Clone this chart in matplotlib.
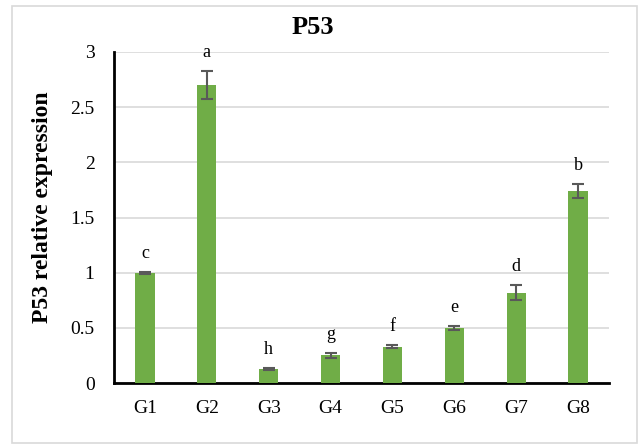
import matplotlib
matplotlib.use("Agg")
import matplotlib.pyplot as plt
from matplotlib.patches import Rectangle

groups = ["G1", "G2", "G3", "G4", "G5", "G6", "G7", "G8"]
expression = [1.00, 2.70, 0.13, 0.25, 0.33, 0.50, 0.82, 1.74]
errors = [0.01, 0.13, 0.01, 0.025, 0.012, 0.02, 0.07, 0.065]
letters = ["c", "a", "h", "g", "f", "e", "d", "b"]
yticks = [0, 0.5, 1, 1.5, 2, 2.5, 3]
ytick_labels = ["0", "0.5", "1", "1.5", "2", "2.5", "3"]

plt.rcParams["font.family"] = ["Liberation Serif", "DejaVu Serif"]

W, H = 639, 445
fig = plt.figure(figsize=(W / 100, H / 100), dpi=100)
fig.patches.append(Rectangle((12 / W, 2 / H), 625 / W, 437 / H,
                             transform=fig.transFigure, fill=False,
                             edgecolor="#D9D9D9", linewidth=1.2))

ax = fig.add_axes([114 / W, (H - 383) / H, 495 / W, (383 - 52) / H])
x = list(range(len(groups)))
ax.bar(x, expression, width=0.31, color="#70AD47", zorder=3)
ax.errorbar(x, expression, yerr=errors, fmt="none", ecolor="#595959",
            elinewidth=1.5, capsize=4.5, capthick=1.5, zorder=4)
for xi, v, e, t in zip(x, expression, errors, letters):
    ax.text(xi, v + e + 0.09, t, ha="center", va="bottom", fontsize=13,
            color="black")

ax.set_xlim(-0.5, len(groups) - 0.5)
ax.set_ylim(0, 3)
ax.set_yticks(yticks)
ax.set_yticklabels(ytick_labels, fontsize=14)
ax.set_xticks(x)
ax.set_xticklabels(groups, fontsize=14)
ax.tick_params(length=0, pad=12)
ax.tick_params(axis="y", pad=14)
ax.yaxis.grid(True, color="#D9D9D9", linewidth=1.2, zorder=0)
ax.set_axisbelow(True)
for s in ["top", "right"]:
    ax.spines[s].set_visible(False)
ax.spines["left"].set_linewidth(2)
ax.spines["bottom"].set_linewidth(2)
ax.spines["left"].set_color("black")
ax.spines["bottom"].set_color("black")

ax.set_ylabel("P53 relative expression", fontsize=17, fontweight="bold")
ax.yaxis.set_label_coords(-61 / 495, (383 - 207) / 331)
fig.text(313 / W, 1 - 27 / H, "P53", ha="center", va="center",
         fontsize=19, fontweight="bold")

fig.savefig("out.png", dpi=100)
